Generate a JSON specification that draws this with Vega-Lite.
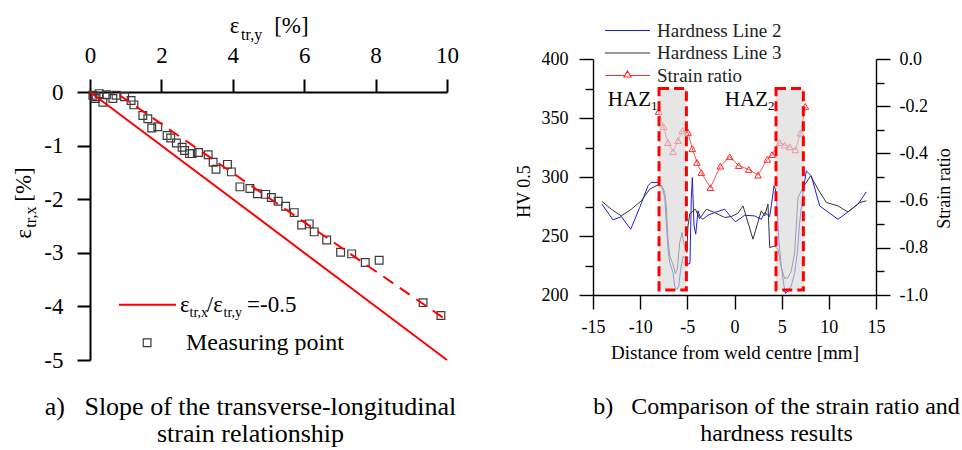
{
  "$schema": "https://vega.github.io/schema/vega-lite/v6.json",
  "padding": {"left": 12, "top": 14, "right": 2, "bottom": 2},
  "bounds": "flush",
  "spacing": 146,
  "config": {
    "view": {"stroke": null},
    "font": "Liberation Serif",
    "axis": {"grid": false, "domainColor": "#000", "tickColor": "#000", "labelColor": "#000", "titleColor": "#000", "labelFont": "Liberation Serif", "titleFont": "Liberation Serif", "titleFontWeight": "normal", "labelOverlap": false, "labelFlush": false, "labelBound": false, "domainWidth": 1.4, "tickWidth": 1.4},
    "title": {"font": "Liberation Serif", "fontWeight": "normal", "color": "#000"},
    "text": {"font": "Liberation Serif", "color": "#000"}
  },
  "datasets": {
    "measured": [
      {"ey": 0.08, "ex": -0.06}, {"ey": 0.14, "ex": -0.12}, {"ey": 0.17, "ex": -0.09}, {"ey": 0.26, "ex": -0.03},
      {"ey": 0.36, "ex": -0.19}, {"ey": 0.46, "ex": -0.05}, {"ey": 0.64, "ex": -0.12}, {"ey": 0.73, "ex": -0.06},
      {"ey": 0.97, "ex": -0.09}, {"ey": 1.15, "ex": -0.16}, {"ey": 1.23, "ex": -0.24}, {"ey": 1.48, "ex": -0.44},
      {"ey": 1.62, "ex": -0.5}, {"ey": 1.73, "ex": -0.67}, {"ey": 1.9, "ex": -0.65}, {"ey": 2.16, "ex": -0.81},
      {"ey": 2.26, "ex": -0.86}, {"ey": 2.42, "ex": -0.95}, {"ey": 2.58, "ex": -1.03}, {"ey": 2.65, "ex": -1.09},
      {"ey": 2.79, "ex": -1.15}, {"ey": 2.86, "ex": -1.15}, {"ey": 3.04, "ex": -1.13}, {"ey": 3.31, "ex": -1.17},
      {"ey": 3.45, "ex": -1.31}, {"ey": 3.53, "ex": -1.44}, {"ey": 3.85, "ex": -1.35}, {"ey": 3.96, "ex": -1.49},
      {"ey": 4.2, "ex": -1.77}, {"ey": 4.48, "ex": -1.8}, {"ey": 4.69, "ex": -1.9}, {"ey": 4.92, "ex": -1.91},
      {"ey": 5.08, "ex": -1.97}, {"ey": 5.27, "ex": -2.04}, {"ey": 5.48, "ex": -2.13}, {"ey": 5.72, "ex": -2.25},
      {"ey": 5.93, "ex": -2.48}, {"ey": 6.14, "ex": -2.46}, {"ey": 6.28, "ex": -2.61}, {"ey": 6.63, "ex": -2.76},
      {"ey": 7.02, "ex": -2.99}, {"ey": 7.33, "ex": -3.02}, {"ey": 7.71, "ex": -3.18}, {"ey": 8.1, "ex": -3.14},
      {"ey": 9.33, "ex": -3.93}, {"ey": 9.83, "ex": -4.17}
    ],
    "ratio_line": [{"ey": 0, "ex": 0}, {"ey": 10, "ex": -5}],
    "fit_line": [{"ey": 0.83, "ex": -0.06}, {"ey": 10, "ex": -4.26}],
    "hardness": [
      {"series": "Hardness Line 2", "x": -14.05, "hv": 277}, {"series": "Hardness Line 2", "x": -12.88, "hv": 263.6},
      {"series": "Hardness Line 2", "x": -12.0, "hv": 266.5}, {"series": "Hardness Line 2", "x": -11.0, "hv": 255.7},
      {"series": "Hardness Line 2", "x": -10.05, "hv": 274.2}, {"series": "Hardness Line 2", "x": -9.17, "hv": 292.5},
      {"series": "Hardness Line 2", "x": -8.82, "hv": 295.4}, {"series": "Hardness Line 2", "x": -8.11, "hv": 295.4},
      {"series": "Hardness Line 2", "x": -7.69, "hv": 291.1}, {"series": "Hardness Line 2", "x": -7.4, "hv": 282.6},
      {"series": "Hardness Line 2", "x": -7.23, "hv": 261.4}, {"series": "Hardness Line 2", "x": -7.05, "hv": 238.8},
      {"series": "Hardness Line 2", "x": -6.87, "hv": 227.5}, {"series": "Hardness Line 2", "x": -6.52, "hv": 219},
      {"series": "Hardness Line 2", "x": -6.34, "hv": 207.6}, {"series": "Hardness Line 2", "x": -6.13, "hv": 204.8},
      {"series": "Hardness Line 2", "x": -5.91, "hv": 207.6}, {"series": "Hardness Line 2", "x": -5.7, "hv": 221.8},
      {"series": "Hardness Line 2", "x": -5.46, "hv": 232.6}, {"series": "Hardness Line 2", "x": -5.21, "hv": 231.4},
      {"series": "Hardness Line 2", "x": -4.93, "hv": 226}, {"series": "Hardness Line 2", "x": -4.72, "hv": 226.9},
      {"series": "Hardness Line 2", "x": -4.58, "hv": 281.2}, {"series": "Hardness Line 2", "x": -4.47, "hv": 299.6},
      {"series": "Hardness Line 2", "x": -4.29, "hv": 258.6}, {"series": "Hardness Line 2", "x": -4.11, "hv": 251.5},
      {"series": "Hardness Line 2", "x": -3.87, "hv": 271.3}, {"series": "Hardness Line 2", "x": -3.62, "hv": 265.7},
      {"series": "Hardness Line 2", "x": -3.34, "hv": 264.2}, {"series": "Hardness Line 2", "x": -2.81, "hv": 267.6},
      {"series": "Hardness Line 2", "x": -1.93, "hv": 270.4}, {"series": "Hardness Line 2", "x": -1.04, "hv": 272.7},
      {"series": "Hardness Line 2", "x": -0.34, "hv": 265.7}, {"series": "Hardness Line 2", "x": 0.1, "hv": 262},
      {"series": "Hardness Line 2", "x": 1.08, "hv": 267.6}, {"series": "Hardness Line 2", "x": 2.14, "hv": 267},
      {"series": "Hardness Line 2", "x": 2.84, "hv": 264.2}, {"series": "Hardness Line 2", "x": 3.2, "hv": 269.9},
      {"series": "Hardness Line 2", "x": 3.73, "hv": 266.5}, {"series": "Hardness Line 2", "x": 3.9, "hv": 275.5},
      {"series": "Hardness Line 2", "x": 4.19, "hv": 292.5}, {"series": "Hardness Line 2", "x": 4.33, "hv": 289.7},
      {"series": "Hardness Line 2", "x": 4.54, "hv": 272.7}, {"series": "Hardness Line 2", "x": 4.69, "hv": 247.3},
      {"series": "Hardness Line 2", "x": 4.96, "hv": 224.6}, {"series": "Hardness Line 2", "x": 5.25, "hv": 207.6},
      {"series": "Hardness Line 2", "x": 5.39, "hv": 201.4}, {"series": "Hardness Line 2", "x": 5.67, "hv": 203.4},
      {"series": "Hardness Line 2", "x": 6.02, "hv": 207.6}, {"series": "Hardness Line 2", "x": 6.38, "hv": 219},
      {"series": "Hardness Line 2", "x": 6.66, "hv": 236}, {"series": "Hardness Line 2", "x": 6.91, "hv": 261.4},
      {"series": "Hardness Line 2", "x": 7.26, "hv": 286.9}, {"series": "Hardness Line 2", "x": 7.61, "hv": 305.2},
      {"series": "Hardness Line 2", "x": 8.14, "hv": 301}, {"series": "Hardness Line 2", "x": 9.03, "hv": 275.5},
      {"series": "Hardness Line 2", "x": 10.97, "hv": 264.2}, {"series": "Hardness Line 2", "x": 12.03, "hv": 270.4},
      {"series": "Hardness Line 2", "x": 13.09, "hv": 277}, {"series": "Hardness Line 2", "x": 13.98, "hv": 287.4},
      {"series": "Hardness Line 3", "x": -14.05, "hv": 279.3}, {"series": "Hardness Line 3", "x": -13.06, "hv": 272.7},
      {"series": "Hardness Line 3", "x": -12.0, "hv": 267}, {"series": "Hardness Line 3", "x": -10.94, "hv": 272.7},
      {"series": "Hardness Line 3", "x": -9.88, "hv": 279.8}, {"series": "Hardness Line 3", "x": -8.99, "hv": 289.7},
      {"series": "Hardness Line 3", "x": -8.11, "hv": 293.3}, {"series": "Hardness Line 3", "x": -7.69, "hv": 292.5},
      {"series": "Hardness Line 3", "x": -7.4, "hv": 286.9}, {"series": "Hardness Line 3", "x": -7.23, "hv": 275.5},
      {"series": "Hardness Line 3", "x": -7.05, "hv": 247.3}, {"series": "Hardness Line 3", "x": -6.87, "hv": 233.1},
      {"series": "Hardness Line 3", "x": -6.52, "hv": 226}, {"series": "Hardness Line 3", "x": -6.27, "hv": 218.2},
      {"series": "Hardness Line 3", "x": -6.06, "hv": 221.8}, {"series": "Hardness Line 3", "x": -5.81, "hv": 244.5},
      {"series": "Hardness Line 3", "x": -5.56, "hv": 253}, {"series": "Hardness Line 3", "x": -5.39, "hv": 244.5},
      {"series": "Hardness Line 3", "x": -5.21, "hv": 238.8}, {"series": "Hardness Line 3", "x": -5.05, "hv": 236},
      {"series": "Hardness Line 3", "x": -4.93, "hv": 258.6}, {"series": "Hardness Line 3", "x": -4.75, "hv": 268.5},
      {"series": "Hardness Line 3", "x": -4.4, "hv": 271.3}, {"series": "Hardness Line 3", "x": -4.15, "hv": 272.7},
      {"series": "Hardness Line 3", "x": -3.69, "hv": 264.8}, {"series": "Hardness Line 3", "x": -2.98, "hv": 272.7},
      {"series": "Hardness Line 3", "x": -2.1, "hv": 269.9}, {"series": "Hardness Line 3", "x": -1.04, "hv": 265.7},
      {"series": "Hardness Line 3", "x": -0.34, "hv": 266.5}, {"series": "Hardness Line 3", "x": 0.37, "hv": 269.3},
      {"series": "Hardness Line 3", "x": 0.9, "hv": 275.5}, {"series": "Hardness Line 3", "x": 1.96, "hv": 247.3},
      {"series": "Hardness Line 3", "x": 2.84, "hv": 271.3}, {"series": "Hardness Line 3", "x": 3.2, "hv": 267},
      {"series": "Hardness Line 3", "x": 3.55, "hv": 277}, {"series": "Hardness Line 3", "x": 3.73, "hv": 240.2},
      {"series": "Hardness Line 3", "x": 4.26, "hv": 241.6}, {"series": "Hardness Line 3", "x": 4.61, "hv": 238.8},
      {"series": "Hardness Line 3", "x": 4.96, "hv": 223.2}, {"series": "Hardness Line 3", "x": 5.32, "hv": 213.9},
      {"series": "Hardness Line 3", "x": 5.67, "hv": 214.8}, {"series": "Hardness Line 3", "x": 6.02, "hv": 220.4},
      {"series": "Hardness Line 3", "x": 6.38, "hv": 236}, {"series": "Hardness Line 3", "x": 6.73, "hv": 282.6},
      {"series": "Hardness Line 3", "x": 7.26, "hv": 291.1}, {"series": "Hardness Line 3", "x": 8.07, "hv": 301},
      {"series": "Hardness Line 3", "x": 8.85, "hv": 289.7}, {"series": "Hardness Line 3", "x": 9.73, "hv": 278.4},
      {"series": "Hardness Line 3", "x": 10.97, "hv": 275.5}, {"series": "Hardness Line 3", "x": 12.03, "hv": 270.4},
      {"series": "Hardness Line 3", "x": 13.27, "hv": 278.4}, {"series": "Hardness Line 3", "x": 13.98, "hv": 279.8}
    ],
    "strain_ratio": [
      {"x": -8.04, "ratio": -0.222}, {"x": -7.51, "ratio": -0.287}, {"x": -7.05, "ratio": -0.354}, {"x": -6.52, "ratio": -0.393},
      {"x": -5.99, "ratio": -0.346}, {"x": -5.53, "ratio": -0.304}, {"x": -4.93, "ratio": -0.311}, {"x": -4.47, "ratio": -0.38},
      {"x": -3.98, "ratio": -0.438}, {"x": -3.52, "ratio": -0.481}, {"x": -2.56, "ratio": -0.545}, {"x": -1.5, "ratio": -0.454},
      {"x": -0.51, "ratio": -0.414}, {"x": 0.45, "ratio": -0.452}, {"x": 1.51, "ratio": -0.468}, {"x": 2.49, "ratio": -0.492},
      {"x": 3.48, "ratio": -0.425}, {"x": 3.98, "ratio": -0.405}, {"x": 4.79, "ratio": -0.354}, {"x": 5.32, "ratio": -0.365},
      {"x": 5.85, "ratio": -0.372}, {"x": 6.45, "ratio": -0.385}, {"x": 6.98, "ratio": -0.314}, {"x": 7.51, "ratio": -0.201}
    ],
    "haz": [
      {"zone": "1", "x0": -8.0, "x1": -5.1},
      {"zone": "2", "x0": 4.4, "x1": 7.3}
    ],
    "anchor": [{}]
  },
  "hconcat": [
    {
      "width": 357,
      "height": 301,
      "title": {
        "text": ["a)\u00a0\u00a0\u00a0Slope of the transverse-longitudinal", "\u00a0\u00a0\u00a0\u00a0\u00a0\u00a0strain relationship"],
        "orient": "bottom", "frame": "group", "anchor": "middle", "offset": 22, "dx": -18,
        "fontSize": 26, "lineHeight": 27, "font": "Liberation Serif", "fontWeight": "normal", "color": "#000"
      },
      "layer": [
        {
          "data": {"name": "measured"},
          "mark": {"type": "point", "shape": "square", "size": 60, "filled": false, "stroke": "#3a3a3a", "strokeWidth": 1.2, "opacity": 1},
          "encoding": {
            "x": {
              "field": "ey", "type": "quantitative",
              "scale": {"domain": [0, 10], "nice": false, "zero": false},
              "axis": {
                "orient": "top", "offset": -33, "title": null,
                "values": [0, 1, 2, 3, 4, 5, 6, 7, 8, 9, 10],
                "labelExpr": "datum.value % 2 === 0 ? '' + datum.value : ''",
                "tickSize": {"condition": {"test": "datum.value % 2 !== 0", "value": 7}, "value": 13},
                "labelFontSize": 23, "labelPadding": 12, "domainWidth": 2, "tickWidth": 2
              }
            },
            "y": {
              "field": "ex", "type": "quantitative",
              "scale": {"domain": [-5, 0], "nice": false, "zero": false, "range": [301, 33]},
              "axis": {
                "title": null,
                "values": [-5, -4.5, -4, -3.5, -3, -2.5, -2, -1.5, -1, -0.5, 0],
                "labelExpr": "datum.value % 1 === 0 ? '' + datum.value : ''",
                "tickSize": {"condition": {"test": "datum.value % 1 !== 0", "value": 11}, "value": 13},
                "labelFontSize": 23, "labelPadding": 14, "domainWidth": 2, "tickWidth": 2
              }
            }
          }
        },
        {
          "data": {"name": "ratio_line"},
          "mark": {"type": "line", "color": "#ff0000", "strokeWidth": 2},
          "encoding": {"x": {"field": "ey", "type": "quantitative"}, "y": {"field": "ex", "type": "quantitative"}}
        },
        {
          "data": {"name": "fit_line"},
          "mark": {"type": "line", "color": "#ff0000", "strokeWidth": 2, "strokeDash": [12, 8]},
          "encoding": {"x": {"field": "ey", "type": "quantitative"}, "y": {"field": "ex", "type": "quantitative"}}
        },
        {
          "data": {"name": "anchor"},
          "mark": {"type": "rule", "color": "#ff0000", "strokeWidth": 2},
          "encoding": {"x": {"datum": 0.81}, "x2": {"datum": 2.41}, "y": {"datum": -3.97}}
        },
        {
          "data": {"name": "anchor"},
          "mark": {"type": "point", "shape": "square", "size": 60, "filled": false, "stroke": "#3a3a3a", "strokeWidth": 1.2, "opacity": 1},
          "encoding": {"x": {"datum": 1.6}, "y": {"datum": -4.677}}
        },
        {"data": {"name": "anchor"}, "mark": {"type": "text", "text": "ε", "fontSize": 23, "align": "left", "baseline": "alphabetic"}, "encoding": {"x": {"datum": 2.52}, "y": {"datum": -4.1}}},
        {"data": {"name": "anchor"}, "mark": {"type": "text", "text": "tr,x", "fontSize": 14, "align": "left", "baseline": "alphabetic"}, "encoding": {"x": {"datum": 2.79}, "y": {"datum": -4.2}}},
        {"data": {"name": "anchor"}, "mark": {"type": "text", "text": "/ε", "fontSize": 23, "align": "left", "baseline": "alphabetic"}, "encoding": {"x": {"datum": 3.27}, "y": {"datum": -4.1}}},
        {"data": {"name": "anchor"}, "mark": {"type": "text", "text": "tr,y", "fontSize": 14, "align": "left", "baseline": "alphabetic"}, "encoding": {"x": {"datum": 3.74}, "y": {"datum": -4.2}}},
        {"data": {"name": "anchor"}, "mark": {"type": "text", "text": "=-0.5", "fontSize": 23, "align": "left", "baseline": "alphabetic"}, "encoding": {"x": {"datum": 4.4}, "y": {"datum": -4.1}}},
        {"data": {"name": "anchor"}, "mark": {"type": "text", "text": "Measuring point", "fontSize": 24, "align": "left", "baseline": "alphabetic"}, "encoding": {"x": {"datum": 2.688}, "y": {"datum": -4.82}}},
        {"data": {"name": "anchor"}, "mark": {"type": "text", "text": "ε", "fontSize": 23, "align": "left", "baseline": "alphabetic"}, "encoding": {"x": {"datum": 3.916}, "y": {"datum": 1.106}}},
        {"data": {"name": "anchor"}, "mark": {"type": "text", "text": "tr,y", "fontSize": 16, "align": "left", "baseline": "alphabetic"}, "encoding": {"x": {"datum": 4.233}, "y": {"datum": 0.976}}},
        {"data": {"name": "anchor"}, "mark": {"type": "text", "text": "[%]", "fontSize": 23, "align": "left", "baseline": "alphabetic"}, "encoding": {"x": {"datum": 5.16}, "y": {"datum": 1.106}}},
        {"data": {"name": "anchor"}, "mark": {"type": "text", "text": "ε", "fontSize": 23, "angle": 270, "align": "left", "baseline": "alphabetic"}, "encoding": {"x": {"datum": -1.666}, "y": {"datum": -2.737}}},
        {"data": {"name": "anchor"}, "mark": {"type": "text", "text": "tr,x", "fontSize": 16, "angle": 270, "align": "left", "baseline": "alphabetic"}, "encoding": {"x": {"datum": -1.525}, "y": {"datum": -2.532}}},
        {"data": {"name": "anchor"}, "mark": {"type": "text", "text": "[%]", "fontSize": 23, "angle": 270, "align": "left", "baseline": "alphabetic"}, "encoding": {"x": {"datum": -1.666}, "y": {"datum": -2.047}}}
      ]
    },
    {
      "width": 283,
      "height": 236,
      "title": {
        "text": ["b)\u00a0\u00a0\u00a0Comparison of the strain ratio and", "hardness results"],
        "orient": "bottom", "frame": "group", "anchor": "middle", "offset": 33, "dx": 42,
        "fontSize": 24, "lineHeight": 27, "font": "Liberation Serif", "fontWeight": "normal", "color": "#000"
      },
      "layer": [
        {
          "data": {"name": "hardness"},
          "mark": {"type": "line", "strokeWidth": 1},
          "encoding": {
            "x": {
              "field": "x", "type": "quantitative",
              "scale": {"domain": [-15, 15], "nice": false, "zero": false},
              "axis": {
                "values": [-15, -12.5, -10, -7.5, -5, -2.5, 0, 2.5, 5, 7.5, 10, 12.5, 15],
                "labelExpr": "datum.value % 5 === 0 ? '' + datum.value : ''",
                "tickSize": {"condition": {"test": "datum.value % 5 !== 0", "value": 8}, "value": 14},
                "labelFontSize": 18, "labelPadding": 9,
                "title": "Distance from weld centre [mm]", "titleFontSize": 19, "titlePadding": 7
              }
            },
            "y": {
              "field": "hv", "type": "quantitative",
              "scale": {"domain": [200, 400], "nice": false, "zero": false},
              "axis": {
                "values": [200, 225, 250, 275, 300, 325, 350, 375, 400],
                "labelExpr": "datum.value % 50 === 0 ? '' + datum.value : ''",
                "tickSize": {"condition": {"test": "datum.value % 50 !== 0", "value": 8}, "value": 14},
                "labelFontSize": 18, "labelPadding": 11,
                "title": "HV 0.5", "titleFontSize": 18, "titlePadding": 8, "titleY": 132
              }
            },
            "color": {
              "field": "series", "type": "nominal",
              "scale": {"domain": ["Hardness Line 2", "Hardness Line 3", "Strain ratio"], "range": ["#1c1ce6", "#333333", "#ff2a2a"]},
              "legend": {
                "title": null, "orient": "none", "legendX": 528, "legendY": -38, "padding": 0,
                "symbolType": "M-4.5,0H4.5", "symbolSize": 100, "symbolStrokeWidth": 1.2,
                "labelFont": "Liberation Serif", "labelFontSize": 19, "labelColor": "#222", "labelOffset": 20,
                "rowPadding": 2.5,
                "encode": {"symbols": {"update": {"shape": {"signal": "datum.value === 'Strain ratio' ? 'M-4.5,0H-0.6M0.6,0H4.5M0,-0.9L0.7,0.3L-0.7,0.3Z' : 'M-4.5,0H4.5'"}, "fill": {"value": "white"}}}}
              }
            }
          }
        },
        {
          "data": {"name": "strain_ratio"},
          "encoding": {
            "x": {"field": "x", "type": "quantitative"},
            "y": {
              "field": "ratio", "type": "quantitative",
              "scale": {"domain": [-1, 0], "nice": false, "zero": false},
              "axis": {
                "orient": "right",
                "values": [-1, -0.9, -0.8, -0.7, -0.6, -0.5, -0.4, -0.3, -0.2, -0.1, 0],
                "labelExpr": "abs(round(datum.value * 10)) % 2 === 0 ? (datum.value < 0 ? '-' + format(-datum.value, '.1f') : format(datum.value, '.1f')) : ''",
                "tickSize": {"condition": {"test": "abs(round(datum.value * 10)) % 2 !== 0", "value": 8}, "value": 14},
                "labelFontSize": 18, "labelPadding": 9,
                "title": "Strain ratio", "titleFontSize": 18, "titleAngle": 270, "titleBaseline": "top", "titlePadding": 8, "titleY": 129
              }
            },
            "color": {"datum": "Strain ratio"}
          },
          "layer": [
            {"mark": {"type": "line", "strokeWidth": 0.8}},
            {"mark": {"type": "point", "shape": "triangle-up", "size": 45, "filled": false, "strokeWidth": 1, "opacity": 1}}
          ]
        },
        {
          "data": {"name": "haz"},
          "encoding": {"x": {"field": "x0", "type": "quantitative"}},
          "layer": [
            {
              "mark": {"type": "rect", "fill": "#d9d9d9", "fillOpacity": 0.65, "stroke": "#ff0000", "strokeWidth": 3, "strokeDash": [10, 5]},
              "encoding": {
                "x2": {"field": "x1"},
                "y": {"datum": 375, "type": "quantitative", "scale": {"domain": [200, 400], "nice": false, "zero": false}, "axis": null},
                "y2": {"datum": 204.2}
              }
            },
            {"mark": {"type": "text", "text": "HAZ", "fontSize": 21, "align": "right", "baseline": "alphabetic", "dx": -8}, "encoding": {"y": {"datum": 360}}},
            {"mark": {"type": "text", "fontSize": 13, "align": "left", "baseline": "alphabetic", "dx": -8, "dy": 4}, "encoding": {"text": {"field": "zone"}, "y": {"datum": 360}}}
          ]
        }
      ],
      "resolve": {"scale": {"y": "independent"}, "axis": {"y": "independent"}}
    }
  ]
}
